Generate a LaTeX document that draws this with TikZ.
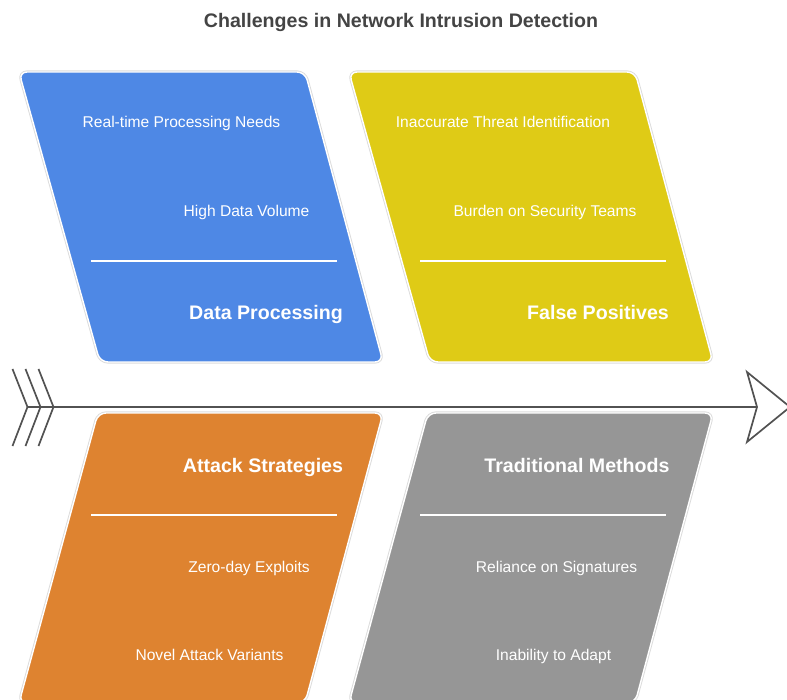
\documentclass[tikz,border=0pt]{standalone}
\usepackage{fontspec}
\setmainfont{Liberation Sans}
\begin{document}
\begin{tikzpicture}[x=1pt,y=-1pt,
  halo/.style={draw=black!14, line width=3.2pt, rounded corners=8pt},
  panel/.style={draw=white, line width=1.4pt, rounded corners=8pt},
  item/.style={text=white, font=\fontsize{15.6}{18}\selectfont, inner sep=0pt, anchor=base},
  head/.style={text=white, font=\fontsize{19.6}{22}\selectfont\bfseries, inner sep=0pt, anchor=base},
  rule/.style={draw=white, line width=1.6pt},
  spine/.style={draw=black!68, line width=1.7pt, line join=miter}]
\definecolor{pblue}{HTML}{4E88E5}
\definecolor{pyellow}{HTML}{DFCB16}
\definecolor{porange}{HTML}{DE8330}
\definecolor{pgray}{HTML}{969696}
\definecolor{ttl}{HTML}{444444}
\useasboundingbox (0,0) rectangle (787,700);
\begin{scope}
\clip (0,0) rectangle (787,700);

% title
\node[font=\fontsize{19.6}{22}\selectfont\bfseries, text=ttl, inner sep=0pt, anchor=base] (title) at (401,28) {Challenges in Network Intrusion Detection};

% upper panels
\foreach \dx/\col in {0/pblue, 330/pyellow}{
  \path[halo] (19+\dx,72) -- (305+\dx,72) -- (383+\dx,362) -- (100+\dx,362) -- cycle;
  \path[panel, fill=\col] (19+\dx,72) -- (305+\dx,72) -- (383+\dx,362) -- (100+\dx,362) -- cycle;
}
% lower panels
\foreach \dx/\col in {0/porange, 330/pgray}{
  \path[halo] (98+\dx,413) -- (383+\dx,413) -- (305+\dx,703) -- (19+\dx,703) -- cycle;
  \path[panel, fill=\col] (98+\dx,413) -- (383+\dx,413) -- (305+\dx,703) -- (19+\dx,703) -- cycle;
}

% Data Processing
\node[item] (dp1) at (181.5,128) {Real-time Processing Needs};
\node[item] (dp2) at (246.5,217) {High Data Volume};
\coordinate (dpl) at (91,261); \coordinate (dpr) at (337,261);
\draw[rule] (dpl) -- (dpr);
\node[head] (dph) at (266,320) {Data Processing};

% False Positives
\node[item] (fp1) at (503,128) {Inaccurate Threat Identification};
\node[item] (fp2) at (545,217) {Burden on Security Teams};
\coordinate (fpl) at (420,261); \coordinate (fpr) at (666,261);
\draw[rule] (fpl) -- (fpr);
\node[head] (fph) at (598,320) {False Positives};

% Attack Strategies
\node[head] (ash) at (263,472) {Attack Strategies};
\coordinate (asl) at (91,515); \coordinate (asr) at (337,515);
\draw[rule] (asl) -- (asr);
\node[item] (as1) at (249,572) {Zero-day Exploits};
\node[item] (as2) at (209.5,660) {Novel Attack Variants};

% Traditional Methods
\node[head] (tmh) at (577,472) {Traditional Methods};
\coordinate (tml) at (420,515); \coordinate (tmr) at (666,515);
\draw[rule] (tml) -- (tmr);
\node[item] (tm1) at (556.5,572) {Reliance on Signatures};
\node[item] (tm2) at (553.5,660) {Inability to Adapt};

% spine with feathered tail and open head
\coordinate (tail) at (27,407);
\coordinate (head) at (757,407);
\draw[spine, line width=2.4pt] (tail) -- (head);
\foreach \x in {0,13,26}{
  \draw[spine] (12.5+\x,369) -- (27.5+\x,407) -- (12.5+\x,446);
}
\draw[spine] (head) -- (747,372) -- (790,407) -- (747,442) -- cycle;
\end{scope}
\end{tikzpicture}
\end{document}
